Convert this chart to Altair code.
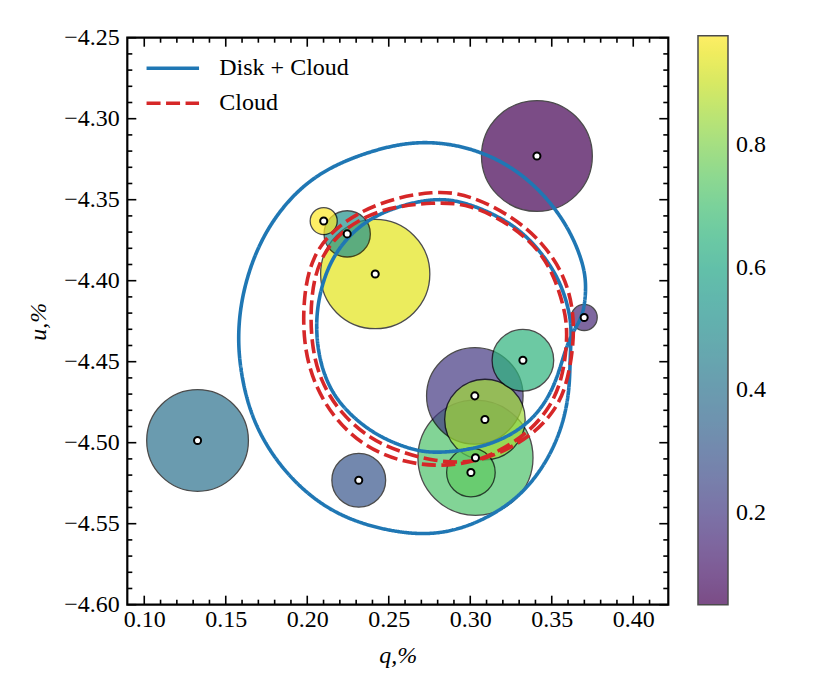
import altair as alt
import pandas as pd

# ---------------- data ----------------
# scatter points (drawing order), q,% and u,% of centres, circle radius (in q units), colour value
q_center = [0.3409, 0.1327, 0.2316, 0.2417, 0.2245, 0.2101, 0.3032, 0.3028, 0.3090, 0.3323, 0.3004, 0.3699]
u_center = [-4.3230, -4.4986, -4.5232, -4.3959, -4.3711, -4.3632, -4.5093, -4.4711, -4.4857, -4.4491, -4.5184, -4.4227]
radius = [0.0340, 0.0312, 0.0165, 0.0335, 0.0142, 0.0083, 0.0353, 0.0296, 0.0247, 0.0189, 0.0149, 0.0080]
cval = [0.050, 0.40, 0.30, 0.94, 0.52, 0.979, 0.72, 0.20, 0.85, 0.65, 0.75, 0.15]

# "Disk + Cloud" model loop (closed curve: outer loop, then inner loop)
disk_q = [0.3621, 0.3612, 0.3609, 0.3572, 0.3489, 0.3346, 0.3162, 0.2937, 0.2692, 0.2375,
          0.2129, 0.1925, 0.1761, 0.1649, 0.1587, 0.1572, 0.1609, 0.1710, 0.1876, 0.2091,
          0.2397, 0.2692, 0.2999, 0.3264, 0.3469, 0.3612, 0.3694, 0.3714, 0.3694,
          0.3621, 0.3571, 0.3510, 0.3387, 0.3203, 0.2999, 0.2784, 0.2641, 0.2436, 0.2273,
          0.2150, 0.2078, 0.2051, 0.2068, 0.2140, 0.2281, 0.2471, 0.2784, 0.2999, 0.3264,
          0.3428, 0.3551, 0.3612]
disk_u = [-4.4323, -4.4490, -4.4675, -4.4878, -4.5086, -4.5292, -4.5436, -4.5539, -4.5576, -4.5519,
          -4.5415, -4.5251, -4.5045, -4.4819, -4.4551, -4.4304, -4.4037, -4.3749, -4.3502, -4.3317,
          -4.3193, -4.3131, -4.3173, -4.3296, -4.3481, -4.3687, -4.3893, -4.4037, -4.4222,
          -4.4323, -4.4469, -4.4675, -4.4860, -4.4983, -4.5045, -4.5065, -4.5045, -4.4963, -4.4840,
          -4.4695, -4.4510, -4.4304, -4.4099, -4.3872, -4.3687, -4.3564, -4.3481, -4.3522, -4.3646,
          -4.3811, -4.3996, -4.4201]

# "Cloud" model loop (closed curve: outer loop, then inner loop)
cloud_q = [0.3011, 0.3183, 0.3367, 0.3510, 0.3592, 0.3637, 0.3632, 0.3571, 0.3448, 0.3264,
           0.2999, 0.2784, 0.2434, 0.2170, 0.2027, 0.1976, 0.1976, 0.2037, 0.2170, 0.2354,
           0.2559, 0.2784,
           0.3011, 0.3183, 0.3354, 0.3489, 0.3563, 0.3594, 0.3592, 0.3526, 0.3428, 0.3244,
           0.2999, 0.2784, 0.2446, 0.2201, 0.2066, 0.2020, 0.2023, 0.2078, 0.2207, 0.2385,
           0.2569, 0.2784]
cloud_u = [-4.5125, -4.5065, -4.4963, -4.4819, -4.4654, -4.4386, -4.4161, -4.3954, -4.3769, -4.3605,
           -4.3471, -4.3440, -4.3512, -4.3667, -4.3852, -4.4099, -4.4386, -4.4633, -4.4860, -4.5025,
           -4.5113, -4.5148,
           -4.5125, -4.5051, -4.4940, -4.4786, -4.4613, -4.4397, -4.4222, -4.3996, -4.3811, -4.3650,
           -4.3527, -4.3514, -4.3551, -4.3693, -4.3878, -4.4113, -4.4385, -4.4619, -4.4823, -4.4977,
           -4.5057, -4.5117]

series_names = ["Disk + Cloud", "Cloud"]

x_major = [0.10, 0.15, 0.20, 0.25, 0.30, 0.35, 0.40]
x_minor = [0.11, 0.12, 0.13, 0.14, 0.16, 0.17, 0.18, 0.19, 0.21, 0.22, 0.23, 0.24,
           0.26, 0.27, 0.28, 0.29, 0.31, 0.32, 0.33, 0.34, 0.36, 0.37, 0.38, 0.39, 0.41]
y_major = [-4.60, -4.55, -4.50, -4.45, -4.40, -4.35, -4.30, -4.25]
y_minor = [-4.59, -4.58, -4.57, -4.56, -4.54, -4.53, -4.52, -4.51, -4.49, -4.48, -4.47, -4.46,
           -4.44, -4.43, -4.42, -4.41, -4.39, -4.38, -4.37, -4.36, -4.34, -4.33, -4.32, -4.31,
           -4.29, -4.28, -4.27, -4.26]
cbar_ticks = [0.2, 0.4, 0.6, 0.8]

# ---------------- layout / style ----------------
XMIN, XMAX = 0.0896, 0.4215
YMIN, YMAX = -4.60, -4.25
W, H = 541, 567
FONT = "Liberation Serif"
MAJ, MIN = 9, 5
LW = 3.6

pts = pd.DataFrame({"q": q_center, "u": u_center, "r": radius, "c": cval,
                    "k": list(range(len(q_center)))})
lines = pd.concat([
    pd.DataFrame({"q": disk_q, "u": disk_u, "series": series_names[0],
                  "k": list(range(len(disk_q)))}),
    pd.DataFrame({"q": cloud_q, "u": cloud_u, "series": series_names[1],
                  "k": list(range(len(cloud_q)))}),
], ignore_index=True)

xs = alt.Scale(domain=[XMIN, XMAX], nice=False, zero=False)
ys = alt.Scale(domain=[YMIN, YMAX], nice=False, zero=False)
px_per_unit = W / (XMAX - XMIN)
rmax = 0.04
# vega symbol "size" is the area of the bounding square: (2r)^2
size_scale = alt.Scale(type="pow", exponent=2, domain=[0, rmax],
                       range=[0, (2 * rmax * px_per_unit) ** 2])

xaxis = alt.Axis(values=x_major, format=".2f", title="q,%", ticks=False, domain=False,
                 grid=False, labelPadding=3, titleY=51, titleBaseline="middle")
yaxis = alt.Axis(values=y_major, format=".2f", title="u,%", ticks=False, domain=False,
                 grid=False, labelPadding=8, titleX=-89, titleBaseline="middle")

cbar_legend = alt.Legend(orient="none", legendX=570.7, legendY=-2, direction="vertical",
                         gradientLength=569, gradientThickness=30,
                         gradientStrokeColor="black", gradientStrokeWidth=1.5,
                         gradientOpacity=0.7, values=cbar_ticks, format=".1f",
                         labelFontSize=24, labelFont=FONT, labelOffset=8,
                         labelColor="black", title=None, labelOverlap=False, padding=0)

circles = alt.Chart(pts).mark_circle(opacity=0.7, stroke="black", strokeWidth=1.3).encode(
    x=alt.X("q:Q", scale=xs, axis=xaxis),
    y=alt.Y("u:Q", scale=ys, axis=yaxis),
    size=alt.Size("r:Q", scale=size_scale, legend=None),
    fill=alt.Fill("c:Q", scale=alt.Scale(scheme="viridis", domain=[0.05, 0.979]),
                  legend=cbar_legend),
    order=alt.Order("k:Q"),
)

line_legend = alt.Legend(orient="none", legendX=33, legendY=18, title=None,
                         symbolType="M-2.5,0H2.5", symbolSize=441, symbolStrokeWidth=LW,
                         labelFontSize=24, labelFont=FONT, labelOffset=34, rowPadding=10,
                         padding=0, labelColor="black")

line_chart = alt.Chart(lines).mark_line(strokeWidth=LW, interpolate="basis-closed").encode(
    x=alt.X("q:Q", scale=xs, axis=xaxis),
    y=alt.Y("u:Q", scale=ys, axis=yaxis),
    stroke=alt.Stroke("series:N", scale=alt.Scale(domain=series_names,
                                                  range=["#1f77b4", "#d62728"]),
                      legend=line_legend),
    strokeDash=alt.StrokeDash("series:N", scale=alt.Scale(domain=series_names,
                                                          range=[[1, 0], [14, 5.5]]),
                              legend=line_legend),
    order=alt.Order("k:Q"),
)

dots = alt.Chart(pts).mark_circle(size=50, fill="white", stroke="black", strokeWidth=2,
                                  opacity=1).encode(
    x=alt.X("q:Q", scale=xs, axis=xaxis),
    y=alt.Y("u:Q", scale=ys, axis=yaxis),
)


def xticks(vals, length, top):
    d = pd.DataFrame({"q": vals})
    y0, y1 = (0, length) if top else (H, H - length)
    return alt.Chart(d).mark_rule(color="black", strokeWidth=1.6).encode(
        x=alt.X("q:Q", scale=xs, axis=xaxis), y=alt.value(y0), y2=alt.value(y1))


def yticks(vals, length, right):
    d = pd.DataFrame({"u": vals})
    x0, x1 = (W, W - length) if right else (0, length)
    return alt.Chart(d).mark_rule(color="black", strokeWidth=1.6).encode(
        y=alt.Y("u:Q", scale=ys, axis=yaxis), x=alt.value(x0), x2=alt.value(x1))


tick_layers = [
    xticks(x_major, MAJ, False), xticks(x_major, MAJ, True),
    xticks(x_minor, MIN, False), xticks(x_minor, MIN, True),
    yticks(y_major, MAJ, False), yticks(y_major, MAJ, True),
    yticks(y_minor, MIN, False), yticks(y_minor, MIN, True),
]

chart = alt.layer(circles, line_chart, dots, *tick_layers).properties(
    width=W, height=H,
    padding={"left": 119.3, "top": 29.7, "right": 140, "bottom": 80},
    autosize=alt.AutoSizeParams(type="none"),
).configure(font=FONT).configure_view(
    stroke="black", strokeWidth=2.2
).configure_axis(
    labelFontSize=24, labelFont=FONT, labelColor="black",
    titleFontSize=24, titleFont=FONT, titleFontStyle="italic",
    titleFontWeight="normal", titleColor="black"
)

chart.save("out.html", embed_options={"renderer": "svg", "actions": False})
